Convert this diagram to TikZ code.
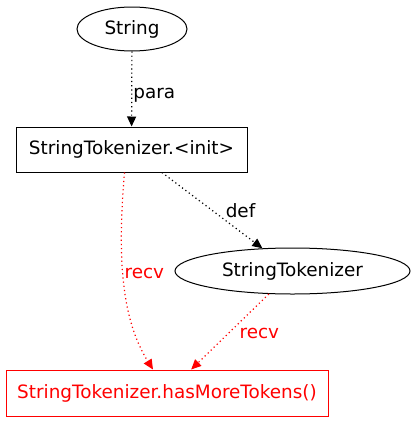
\documentclass[tikz,border=0pt]{standalone}
\usepackage{fontspec}
\setmainfont{DejaVu Sans}
\usetikzlibrary{shapes.geometric,arrows.meta}
\begin{document}
\begin{tikzpicture}[x=1pt,y=-1pt,font=\fontsize{18.4}{22}\selectfont,line width=1pt,
  every node/.style={inner sep=0pt},
  flow/.style={line width=1.2pt,dash pattern=on 1.2pt off 3pt,arrows={-Triangle[length=10pt,width=9pt]}},
  lbl/.style={inner sep=1pt}]
\useasboundingbox (0,0) rectangle (415,424);
\node[draw,ellipse,minimum width=110,minimum height=44] (str) at (132,29) {String};
\node[draw,rectangle,minimum width=231,minimum height=45] (init) at (131.5,149.5) {StringTokenizer.<init>};
\node[draw,ellipse,minimum width=235,minimum height=46] (tok) at (292.5,271) {StringTokenizer};
\node[draw=red,text=red,rectangle,minimum width=322,minimum height=46] (has) at (167,393) {StringTokenizer.hasMoreTokens()};
\draw[flow] (str) -- (init) node[lbl,pos=0.58,right] {para};
\draw[flow] (init) -- (tok) node[lbl,midway,right=12pt] {def};
\draw[flow,red] ([xshift=-7]init.south) .. controls (117,260) and (122,320) .. ([xshift=-14]has.north)
  node[lbl,pos=0.44,anchor=west] {recv};
\draw[flow,red] (tok) -- (has) node[lbl,midway,right=8pt,yshift=-2pt] {recv};
\end{tikzpicture}
\end{document}
